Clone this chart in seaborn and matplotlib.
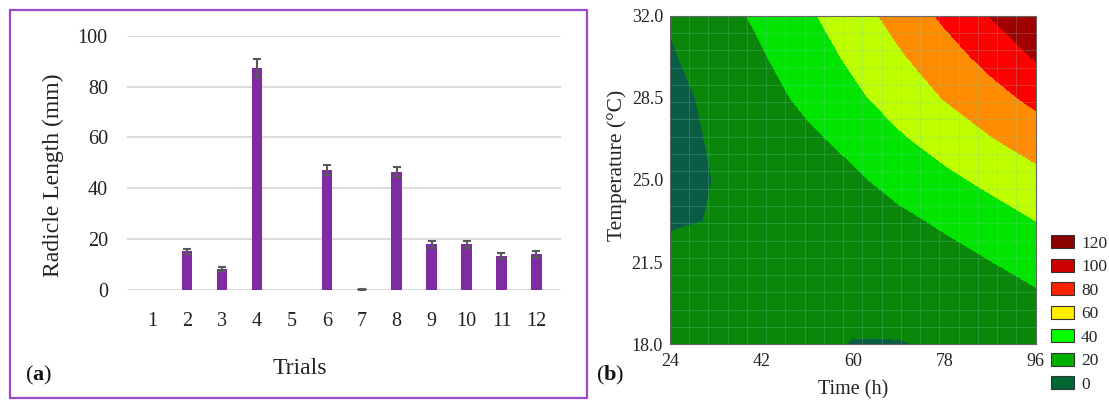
import numpy as np
import pandas as pd
import matplotlib
matplotlib.use("Agg")
import matplotlib.pyplot as plt
import seaborn as sns
from matplotlib.patches import Rectangle, Patch
from matplotlib.ticker import FixedLocator, FormatStrFormatter

# ---------------- data: panel (a) ----------------
trials = ["1", "2", "3", "4", "5", "6", "7", "8", "9", "10", "11", "12"]
radicle_mm = [0, 15.2, 8.3, 87.3, 0, 47.2, 0.3, 46.5, 18.0, 18.0, 13.4, 14.0]
radicle_err = [0, 1.1, 0.8, 3.7, 0, 2.0, 0.2, 2.0, 1.3, 1.3, 1.2, 1.2]
y_ticks_a = [0, 20, 40, 60, 80, 100]

# ---------------- data: panel (b) ----------------
time_h = [24, 33, 42, 51, 60, 69, 78, 87, 96]
temp_c = [18.0, 19.75, 21.5, 23.25, 25.0, 26.75, 28.5, 30.25, 32.0]
# radicle length (rows: temperature, cols: time)
radicle_surface = [
    [13.5, 8.1, 4.0, 1.3, -0.2, -0.4, 0.8, 3.2, 6.9],
    [6.7, 3.4, 1.4, 0.6, 1.1, 2.8, 5.8, 10.0, 15.5],
    [2.3, 1.0, 1.0, 2.2, 4.7, 8.4, 13.3, 19.5, 27.0],
    [-0.8, 0.3, 2.4, 5.8, 10.3, 15.9, 22.7, 30.7, 39.9],
    [-3.5, 0.3, 5.2, 11.0, 16.9, 25.9, 35.2, 44.6, 54.0],
    [-5.3, 1.8, 9.2, 16.5, 25.1, 37.3, 48.1, 58.8, 68.8],
    [-5.0, 4.0, 13.5, 23.9, 35.9, 48.3, 60.8, 72.5, 85.0],
    [-1.8, 8.3, 18.4, 30.6, 43.5, 57.5, 71.6, 86.2, 101.8],
    [1.5, 12.0, 23.8, 36.8, 51.2, 66.8, 83.4, 100.6, 119.0],
]
contour_levels = [-20, 0, 20, 40, 60, 80, 100, 120]
region_colors = ["#0a5c44", "#0a870a", "#00e400", "#c0ff00", "#ff8c00", "#ff0000", "#a00000"]
legend_labels = ["120", "100", "80", "60", "40", "20", "0"]
legend_colors = ["#8b0000", "#cc0000", "#ff2200", "#ffee00", "#00ff00", "#00b000", "#006633"]
time_ticks = [24, 42, 60, 78, 96]
temp_ticks = [18.0, 21.5, 25.0, 28.5, 32.0]

# ---------------- style ----------------
sns.set_theme(style="white")
plt.rcParams["font.family"] = ["Liberation Serif", "DejaVu Serif"]
plt.rcParams["mathtext.fontset"] = "custom"
plt.rcParams["mathtext.rm"] = "Liberation Serif"
plt.rcParams["mathtext.bf"] = "Liberation Serif:bold"

W, H = 1109, 401
fig = plt.figure(figsize=(W / 100, H / 100), dpi=100)


def box(x0, y0, x1, y1):
    return [x0 / W, 1 - y1 / H, (x1 - x0) / W, (y1 - y0) / H]


# purple frame around panel (a)
fig.patches.append(Rectangle((10 / W, 1 - 398 / H), 577 / W, 388 / H,
                             transform=fig.transFigure, fill=False,
                             ec="#9a4cc8", lw=1.6))

# ---------------- panel (a) ----------------
axA = fig.add_axes(box(127.2, 35.7, 561.4, 290))
df = pd.DataFrame({"Trial": trials, "Radicle": radicle_mm})
sns.barplot(data=df, x="Trial", y="Radicle", order=trials, color="#7f2ca3",
            saturation=1, width=0.3, linewidth=0, ax=axA)
centers = np.array([p.get_x() + p.get_width() / 2 for p in axA.patches])
vals = np.array(radicle_mm)
errs = np.array(radicle_err)
m = errs > 0
axA.errorbar(centers[m], vals[m], yerr=errs[m], fmt="none", ecolor="#595959",
             elinewidth=1.5, capsize=3.2, capthick=1.5, zorder=5)
axA.set_ylim(0, 100)
axA.set_yticks(y_ticks_a)
axA.yaxis.grid(True, color="#d9d9d9", lw=1.3)
axA.xaxis.grid(False)
for s in axA.spines.values():
    s.set_visible(False)
axA.set_xlabel("")
axA.set_ylabel("")
axA.tick_params(axis="x", length=0, labelsize=14.5, pad=16, colors="#222222")
axA.tick_params(axis="y", length=0, labelsize=14.5, pad=14, colors="#222222")

fig.text(53 / W, 1 - 175 / H, "Radicle Length (mm)", rotation=90,
         ha="center", va="center", fontsize=17, color="#222222")
fig.text(300 / W, 1 - 368 / H, "Trials", ha="center", va="center",
         fontsize=17, color="#222222")
fig.text(39 / W, 1 - 375 / H, r"($\mathbf{a}$)", ha="center", va="center",
         fontsize=16, color="#111111")

# ---------------- panel (b) ----------------
axB = fig.add_axes(box(670, 15.7, 1035.7, 344.3))
axB.contourf(time_h, temp_c, radicle_surface, levels=contour_levels,
             colors=region_colors, zorder=1)
axB.set_xlim(24, 96)
axB.set_ylim(18, 32)
axB.xaxis.set_major_locator(FixedLocator(time_ticks))
axB.yaxis.set_major_locator(FixedLocator(temp_ticks))
axB.yaxis.set_major_formatter(FormatStrFormatter("%.1f"))
axB.xaxis.set_minor_locator(FixedLocator(np.linspace(24, 96, 20)[1:-1]))
axB.yaxis.set_minor_locator(FixedLocator(np.linspace(18, 32, 20)[1:-1]))
axB.set_axisbelow(False)
axB.grid(which="minor", color="#6fd0b8", alpha=0.3, lw=0.6)
axB.grid(which="major", visible=False)
axB.tick_params(which="minor", length=0)
axB.tick_params(which="major", direction="in", length=3, width=0.8,
                color="#333333", labelsize=13, colors="#222222")
axB.tick_params(axis="x", pad=6)
axB.tick_params(axis="y", pad=5)
for s in axB.spines.values():
    s.set_color("#666666")
    s.set_linewidth(0.8)

fig.text(853 / W, 1 - 390 / H, "Time (h)", ha="center", va="center",
         fontsize=14.5, color="#222222")
fig.text(617 / W, 1 - 165 / H, "Temperature (°C)", rotation=90,
         ha="center", va="center", fontsize=15.5, color="#222222")
fig.text(610 / W, 1 - 375 / H, r"($\mathbf{b}$)", ha="center", va="center",
         fontsize=16, color="#111111")

handles = [Patch(facecolor=c, edgecolor="#333333", lw=0.8) for c in legend_colors]
fig.legend(handles, legend_labels, loc="upper left",
           bbox_to_anchor=(1050.7 / W, 1 - 235 / H), frameon=False,
           fontsize=12.5, handlelength=1.35, handleheight=0.78,
           labelspacing=0.4, handletextpad=0.4, borderpad=0,
           borderaxespad=0)

fig.savefig("out.png", dpi=100)
